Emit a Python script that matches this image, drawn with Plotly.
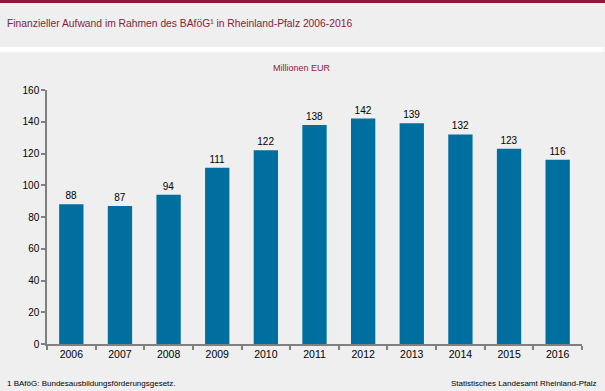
import plotly.graph_objects as go

years = ["2006", "2007", "2008", "2009", "2010", "2011", "2012", "2013", "2014", "2015", "2016"]
values = [88, 87, 94, 111, 122, 138, 142, 139, 132, 123, 116]
y_ticks = [0, 20, 40, 60, 80, 100, 120, 140, 160]

W, H = 605, 391
L, R, T, B = 47, 23, 90, 47
pw, ph = W - L - R, H - T - B

def px(x):
    return (x - L) / pw

def py(y):
    return (H - B - y) / ph

FONT = "Liberation Sans, Arial, sans-serif"
RED = "#8c1a3c"

fig = go.Figure(go.Bar(
    x=years, y=values,
    marker=dict(color="#006e9f", line=dict(width=0)),
    text=[str(v) for v in values], textposition="outside",
    textfont=dict(family=FONT, size=10, color="#000000"),
    cliponaxis=False,
))

fig.update_layout(
    width=W, height=H,
    margin=dict(l=L, r=R, t=T, b=B),
    paper_bgcolor="#eeefee", plot_bgcolor="#eeefee",
    bargap=0.5, showlegend=False,
    font=dict(family=FONT, size=10, color="#000000"),
    xaxis=dict(
        type="category", showgrid=False, showline=True, linecolor="#808080", linewidth=1.5,
        ticks="outside", tickson="boundaries", ticklen=4, tickcolor="#808080", tickwidth=1.5,
        tickfont=dict(family=FONT, size=10.5, color="#000000"),
    ),
    yaxis=dict(
        range=[0, 160], tickvals=y_ticks, showgrid=False, zeroline=False,
        showline=True, linecolor="#808080", linewidth=1.5,
        ticks="outside", ticklen=4, tickcolor="#808080", tickwidth=1.5,
        tickfont=dict(family=FONT, size=10, color="#000000"),
    ),
    shapes=[
        dict(type="rect", xref="paper", yref="paper", x0=px(0), x1=px(W), y0=py(0), y1=py(3),
             fillcolor=RED, line=dict(width=0), layer="below"),
        dict(type="rect", xref="paper", yref="paper", x0=px(0), x1=px(604), y0=py(47), y1=py(52),
             fillcolor="#ffffff", line=dict(width=0), layer="below"),
    ],
    annotations=[
        dict(text="Finanzieller Aufwand im Rahmen des BAföG¹ in Rheinland-Pfalz 2006-2016",
             xref="paper", yref="paper", x=px(5), y=py(23), xanchor="left", yanchor="middle",
             showarrow=False, font=dict(family=FONT, size=10.3, color=RED)),
        dict(text="Millionen EUR", xref="paper", yref="paper", x=px(302), y=py(68),
             xanchor="center", yanchor="middle", showarrow=False,
             font=dict(family=FONT, size=9, color=RED)),
        dict(text="1 BAföG: Bundesausbildungsförderungsgesetz.", xref="paper", yref="paper",
             x=px(5), y=py(383), xanchor="left", yanchor="middle", showarrow=False,
             font=dict(family=FONT, size=8, color="#000000")),
        dict(text="Statistisches Landesamt Rheinland-Pfalz", xref="paper", yref="paper",
             x=px(598), y=py(383), xanchor="right", yanchor="middle", showarrow=False,
             font=dict(family=FONT, size=8, color="#000000")),
    ],
)

fig.write_html("out.html", config={"displayModeBar": False},
               post_script="document.body.style.margin='0';document.body.style.padding='0';")
